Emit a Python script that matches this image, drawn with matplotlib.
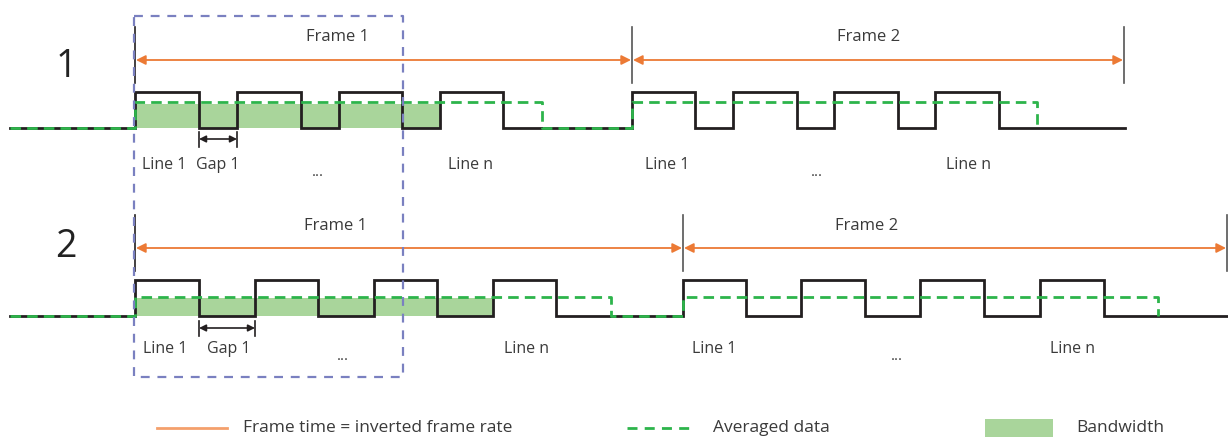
import matplotlib.pyplot as plt

plt.rcParams['font.family'] = ['Open Sans', 'DejaVu Sans']

# timing of the two scenarios (time axis in drawing units, left to right)
row_names = ["1", "2"]
line_rise = [
    [135, 237, 339, 440, 632, 733, 834, 935],
    [135, 255, 374, 493, 683, 801, 920, 1040],
]
line_fall = [
    [199, 301, 402, 503, 695, 797, 898, 999],
    [199, 318, 437, 556, 746, 865, 984, 1104],
]
frame_edges = [
    [135, 632, 1124],
    [135, 683, 1227],
]
avg_off = [
    [542, 1037],
    [611, 1158],
]
bandwidth_end = [440, 493]
gap_1 = [(199, 237), (199, 255)]
signal_end = [1125, 1228]

frame_labels = ["Frame 1", "Frame 2"]
line_labels = ["Line 1", "Gap 1", "...", "Line n", "Line 1", "...", "Line n"]
legend_labels = ["Frame time = inverted frame rate", "Averaged data", "Bandwidth"]

# layout
row_low = [128, 316]
row_high = [92, 280]
row_avg = [102, 297]
row_fill_top = [104, 298]
row_arrow_y = [60, 248]
row_tick = [(27, 83), (215, 271)]
row_label_y = [67, 247]
frame_label_x = [[338, 869], [336, 867]]
frame_label_y = [37, 226]
line_label_x = [[164, 218, 318, 470, 667, 817, 969],
                [165, 229, 343, 526, 714, 897, 1073]]
line_label_y = [165, 349]
gap_y = [139, 328]

BLACK = '#231f20'
GREEN = '#2db44b'
FILL = '#a9d59b'
ORANGE = '#ec7a35'
BLUE = '#7a80c0'
TEXT = '#3a3a3a'

fig = plt.figure(figsize=(12.28, 4.38), dpi=100)
ax = fig.add_axes([0, 0, 1, 1])
ax.set_xlim(0, 1228)
ax.set_ylim(438, 0)
ax.axis('off')

for i in range(2):
    low, high, avg = row_low[i], row_high[i], row_avg[i]

    # bandwidth fill
    ax.fill_between([135, bandwidth_end[i]], row_fill_top[i], low,
                    color=FILL, lw=0, zorder=1)

    # line signal
    xs, ys = [10], [low]
    for r, f in zip(line_rise[i], line_fall[i]):
        xs += [r, r, f, f]
        ys += [low, high, high, low]
    xs.append(signal_end[i])
    ys.append(low)
    ax.plot(xs, ys, color=BLACK, lw=2.0, solid_joinstyle='miter', zorder=2)

    # averaged data
    ax_, ay = [10], [low]
    for on, off in zip(frame_edges[i][:-1], avg_off[i]):
        ax_ += [on, on, off, off]
        ay += [low, avg, avg, low]
    ax.plot(ax_, ay, color=GREEN, lw=2.0, dashes=(3.8, 2.2), zorder=3)

    # frame boundaries and arrows
    t0, t1 = row_tick[i]
    for k, x in enumerate(frame_edges[i]):
        ax.plot([x, x], [t0, t1], color=BLACK if k == 0 else '#555555',
                lw=1.2, zorder=2)
    edges = frame_edges[i]
    for k in range(len(edges) - 1):
        ax.annotate('', xy=(edges[k + 1] - 1, row_arrow_y[i]),
                    xytext=(edges[k] + 1, row_arrow_y[i]),
                    arrowprops=dict(arrowstyle='<|-|>', color=ORANGE, lw=1.3,
                                    shrinkA=0, shrinkB=0, mutation_scale=14))
        ax.text(frame_label_x[i][k], frame_label_y[i], frame_labels[k],
                fontsize=12, color=TEXT, ha='center', va='center')

    # gap dimension
    g0, g1 = gap_1[i]
    ax.annotate('', xy=(g1, gap_y[i]), xytext=(g0, gap_y[i]),
                arrowprops=dict(arrowstyle='<|-|>', color=BLACK, lw=1.2,
                                shrinkA=0, shrinkB=0, mutation_scale=10))
    for x in (g0, g1):
        ax.plot([x, x], [gap_y[i] - 7, gap_y[i] + 8], color=BLACK, lw=1.2)

    # labels
    ax.text(66, row_label_y[i], row_names[i], fontsize=27, color='#222222',
            ha='center', va='center')
    for lab, x in zip(line_labels, line_label_x[i]):
        if lab == "...":
            ax.text(x, line_label_y[i] + 11, lab, fontsize=11, color=TEXT,
                    ha='center', va='baseline')
        else:
            ax.text(x, line_label_y[i], lab, fontsize=11.5, color=TEXT,
                    ha='center', va='center')

# dashed selection box
ax.plot([134, 403, 403, 134, 134], [16, 16, 377, 377, 16], color=BLUE,
        lw=1.6, dashes=(4, 3.5), zorder=4)

# legend
ax.plot([157, 227], [428, 428], color='#f4a06c', lw=2)
ax.text(243, 428, legend_labels[0], fontsize=12.5, color=TEXT, va='center')
ax.plot([627, 695], [428, 428], color=GREEN, lw=2, dashes=(3.6, 2.6))
ax.text(713, 428, legend_labels[1], fontsize=12.5, color=TEXT, va='center')
ax.fill_between([985, 1053], 419, 437, color=FILL, lw=0)
ax.text(1076, 428, legend_labels[2], fontsize=12.5, color=TEXT, va='center')

fig.savefig('out.png', dpi=100)
